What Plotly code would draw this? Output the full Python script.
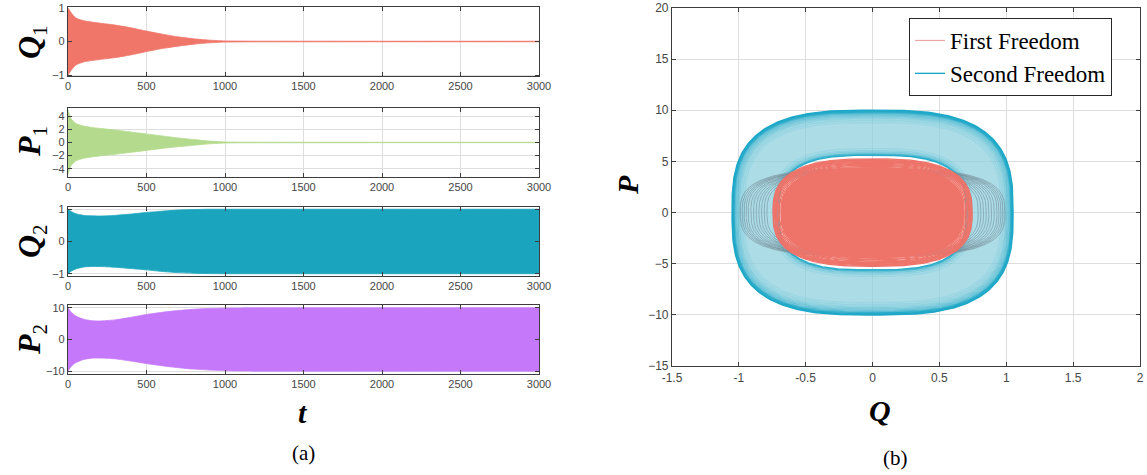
import numpy as np
import plotly.graph_objects as go

# ---------------- time histories: oscillation envelopes ----------------
t_env = [0, 20, 50, 100, 150, 200, 300, 400, 500, 600, 700, 800, 900, 1000, 1100, 1200, 1500, 2000, 2500, 3000]

q1_upper = [1.0, 0.86, 0.70, 0.62, 0.58, 0.55, 0.49, 0.41, 0.31, 0.22, 0.14, 0.08, 0.04, 0.018, 0.012, 0.010, 0.009, 0.008, 0.008, 0.008]
q1_lower = [-1.0, -0.86, -0.70, -0.61, -0.57, -0.54, -0.48, -0.40, -0.30, -0.21, -0.14, -0.08, -0.04, -0.018, -0.012, -0.010, -0.009, -0.008, -0.008, -0.008]

p1_upper = [5.0, 3.6, 2.9, 2.5, 2.3, 2.15, 1.9, 1.6, 1.3, 1.0, 0.7, 0.45, 0.22, 0.08, 0.05, 0.04, 0.035, 0.03, 0.03, 0.03]
p1_lower = [-4.8, -3.5, -2.8, -2.4, -2.2, -2.05, -1.8, -1.5, -1.2, -0.9, -0.65, -0.42, -0.2, -0.08, -0.05, -0.04, -0.035, -0.03, -0.03, -0.03]

q2_upper = [1.0, 0.93, 0.86, 0.81, 0.795, 0.79, 0.81, 0.85, 0.90, 0.94, 0.975, 0.99, 1.0, 1.0, 1.0, 1.0, 1.0, 1.0, 1.0, 1.0]
q2_lower = [-1.0, -0.92, -0.85, -0.79, -0.775, -0.775, -0.80, -0.84, -0.88, -0.93, -0.965, -0.985, -0.995, -1.0, -1.0, -1.0, -1.0, -1.0, -1.0, -1.0]

p2_upper = [10.0, 8.6, 7.4, 6.4, 5.95, 5.85, 6.2, 7.0, 7.9, 8.6, 9.15, 9.55, 9.8, 9.9, 9.95, 10.0, 10.0, 10.0, 10.0, 10.0]
p2_lower = [-10.0, -8.5, -7.3, -6.3, -5.9, -5.85, -6.1, -6.8, -7.6, -8.3, -8.9, -9.35, -9.65, -9.85, -9.95, -10.0, -10.0, -10.0, -10.0, -10.0]

t_ticks = [0, 500, 1000, 1500, 2000, 2500, 3000]

# ---------------- phase portrait: orbit amplitudes (Q amp, P amp) ----------------
ring_outer = (1.05, 10.0)
ring_inner = (0.70, 5.6)
# dense band of second-freedom orbits hugging the outer edge
ring_edge_q = [1.05, 1.045, 1.04, 1.035, 1.03, 1.02, 1.01, 1.0, 0.99, 0.975, 0.96]
ring_edge_p = [10.0, 9.93, 9.86, 9.79, 9.72, 9.6, 9.48, 9.35, 9.2, 9.0, 8.8]
ring_edge_alpha = [1.0, 0.9, 0.75, 0.6, 0.5, 0.4, 0.32, 0.25, 0.2, 0.15, 0.1]
# orbits along the inner edge of the ring
ring_in_q = [0.70, 0.705, 0.71, 0.72, 0.73, 0.745]
ring_in_p = [5.6, 5.68, 5.76, 5.9, 6.05, 6.25]
ring_in_alpha = [0.9, 0.6, 0.45, 0.3, 0.2, 0.12]
# grey-blue orbits crossing the gap at the sides
gray_q = [0.99, 0.975, 0.96, 0.945, 0.93, 0.91, 0.89, 0.87, 0.85, 0.83, 0.81, 0.79]
gray_p = [4.3, 4.25, 4.2, 4.2, 4.15, 4.1, 4.1, 4.05, 4.0, 4.0, 3.95, 3.9]
# first-freedom orbits
red_core = (0.68, 4.4)
red_q = [0.66, 0.675, 0.685, 0.695, 0.705, 0.715, 0.72, 0.727, 0.733, 0.74, 0.745]
red_p = [4.4, 4.52, 4.62, 4.72, 4.82, 4.9, 4.97, 5.04, 5.1, 5.17, 5.25]

# colours
C_Q1 = "rgb(240,118,106)"
C_P1 = "rgb(180,219,141)"
C_Q2 = "rgb(27,164,189)"
C_P2 = "rgb(197,121,250)"
C_RED = "rgb(238,115,105)"
C_TEAL = "rgb(30,168,200)"

AXC = "rgb(60,60,60)"
GRID = "rgb(222,222,222)"
TICKFONT_L = dict(family="Liberation Sans, Arial", size=11, color="rgb(70,70,70)")
TICKFONT_R = dict(family="Liberation Sans, Arial", size=12, color="rgb(70,70,70)")

fig = go.Figure()


def envelope(upper, lower, color, xa, ya):
    fig.add_trace(go.Scatter(
        x=t_env, y=lower, mode="lines",
        line=dict(color=color, width=0.8, shape="spline", smoothing=0.6),
        xaxis=xa, yaxis=ya, showlegend=False, hoverinfo="skip"))
    fig.add_trace(go.Scatter(
        x=t_env, y=upper, mode="lines", fill="tonexty", fillcolor=color,
        line=dict(color=color, width=0.8, shape="spline", smoothing=0.6),
        xaxis=xa, yaxis=ya, showlegend=False, hoverinfo="skip"))


envelope(q1_upper, q1_lower, C_Q1, "x", "y")
envelope(p1_upper, p1_lower, C_P1, "x2", "y2")
envelope(q2_upper, q2_lower, C_Q2, "x3", "y3")
envelope(p2_upper, p2_lower, C_P2, "x4", "y4")


def superellipse(a, b, n, num=400):
    th = np.linspace(0, 2 * np.pi, num)
    c, s = np.cos(th), np.sin(th)
    q = a * np.sign(c) * np.abs(c) ** (2.0 / n)
    p = b * np.sign(s) * np.abs(s) ** (2.0 / n)
    return q, p


def orbit(a, b, n, color, width, opacity=1.0):
    q, p = superellipse(a, b, n)
    fig.add_trace(go.Scatter(x=q, y=p, mode="lines", line=dict(color=color, width=width),
                             opacity=opacity, xaxis="x5", yaxis="y5",
                             showlegend=False, hoverinfo="skip"))


# blue ring (second freedom): outer boundary CCW, inner boundary CW -> hole
qo, po = superellipse(*ring_outer, n=3.0)
qi, pi_ = superellipse(*ring_inner, n=3.0)
ring_q = np.concatenate([qo, qi[::-1], qo[:1]])
ring_p = np.concatenate([po, pi_[::-1], po[:1]])
fig.add_trace(go.Scatter(
    x=ring_q, y=ring_p, mode="lines", fill="toself",
    fillcolor="rgba(140,208,222,0.72)", line=dict(width=0),
    xaxis="x5", yaxis="y5", showlegend=False, hoverinfo="skip"))

for a, b, al in zip(ring_edge_q, ring_edge_p, ring_edge_alpha):
    orbit(a, b, 3.0, C_TEAL, 1.6, al)
for a, b, al in zip(ring_in_q, ring_in_p, ring_in_alpha):
    orbit(a, b, 3.0, C_TEAL, 1.4, al)

for a, b in zip(gray_q, gray_p):
    orbit(a, b, 3.0, "rgb(112,128,140)", 1.0, 0.5)

# red region (first freedom)
q, p = superellipse(*red_core, n=2.8)
fig.add_trace(go.Scatter(x=q, y=p, mode="lines", fill="toself", fillcolor=C_RED,
                         line=dict(color=C_RED, width=1), xaxis="x5", yaxis="y5",
                         showlegend=False, hoverinfo="skip"))
for a, b in zip(red_q, red_p):
    orbit(a, b, 2.8, C_RED, 1.3)

# legend entries
fig.add_trace(go.Scatter(x=[None], y=[None], mode="lines", name="First Freedom",
                         line=dict(color="rgb(236,165,165)", width=1.2), xaxis="x5", yaxis="y5"))
fig.add_trace(go.Scatter(x=[None], y=[None], mode="lines", name="Second Freedom",
                         line=dict(color=C_TEAL, width=1.4), xaxis="x5", yaxis="y5"))

W, H = 1147, 475


def px_x(x):
    return x / W


def px_y(y):
    return 1 - y / H


def axis_common(tickfont):
    return dict(showline=True, linecolor=AXC, linewidth=1.2, mirror="ticks",
                ticks="inside", ticklen=4, tickcolor=AXC, showgrid=True,
                gridcolor=GRID, gridwidth=1, zeroline=False, tickfont=tickfont,
                automargin=False)


xdom_l = [px_x(68), px_x(539)]
boxes = [(7, 76), (108, 177), (207, 276), (305, 374)]
yranges = [[-1.03, 1.03], [-5.25, 5.25], [-1.07, 1.07], [-10.9, 10.9]]
ytickvals = [[-1, 0, 1], [-4, -2, 0, 2, 4], [-1, 0, 1], [-10, 0, 10]]

layout = dict(width=W, height=H, margin=dict(l=0, r=0, t=0, b=0, autoexpand=False),
              paper_bgcolor="white", plot_bgcolor="white", showlegend=True)

for k in range(4):
    sx = "" if k == 0 else str(k + 1)
    xa = axis_common(TICKFONT_L)
    xa.update(domain=xdom_l, range=[0, 3000], tickvals=t_ticks, anchor="y" + sx)
    ya = axis_common(TICKFONT_L)
    top, bot = boxes[k]
    ya.update(domain=[px_y(bot), px_y(top)], range=yranges[k], tickvals=ytickvals[k],
              anchor="x" + sx)
    layout["xaxis" + sx] = xa
    layout["yaxis" + sx] = ya

xa5 = axis_common(TICKFONT_R)
xa5.update(domain=[px_x(672), px_x(1140)], range=[-1.5, 2],
           tickvals=[-1.5, -1, -0.5, 0, 0.5, 1, 1.5, 2],
           ticktext=["-1.5", "-1", "-0.5", "0", "0.5", "1", "1.5", "2"], anchor="y5")
ya5 = axis_common(TICKFONT_R)
ya5.update(domain=[px_y(366), px_y(8)], range=[-15, 20],
           tickvals=[-15, -10, -5, 0, 5, 10, 15, 20], anchor="x5")
layout["xaxis5"] = xa5
layout["yaxis5"] = ya5

layout["legend"] = dict(x=px_x(909), y=px_y(18), xanchor="left", yanchor="top",
                        bgcolor="white", bordercolor="rgb(40,40,40)", borderwidth=1,
                        font=dict(family="Liberation Serif, Times New Roman", size=23, color="black"),
                        traceorder="normal", tracegroupgap=0, itemwidth=30)

fig.update_layout(**layout)

SERIF = "Liberation Serif, Times New Roman"
ann = []


def label(text, x, y, size, angle=0):
    ann.append(dict(text=text, x=px_x(x), y=px_y(y), xref="paper", yref="paper",
                    showarrow=False, textangle=angle, xanchor="center", yanchor="middle",
                    font=dict(family=SERIF, size=size, color="black")))


def sublabel(sym, idx):
    return "<b><i>%s</i></b><sub><span style='font-size:21px'>%s</span></sub>" % (sym, idx)


label(sublabel("Q", "1"), 31, 42, 32, -90)
label(sublabel("P", "1"), 31, 142, 32, -90)
label(sublabel("Q", "2"), 31, 241, 32, -90)
label(sublabel("P", "2"), 31, 340, 32, -90)
label("<b><i>t</i></b>", 303, 412, 30)
label("(a)", 303, 453, 21)
label("<b><i>P</i></b>", 627, 185, 30, -90)
label("<b><i>Q</i></b>", 880, 410, 30)
label("(b)", 895, 458, 21)
fig.update_layout(annotations=ann)

fig.write_html("out.html")
